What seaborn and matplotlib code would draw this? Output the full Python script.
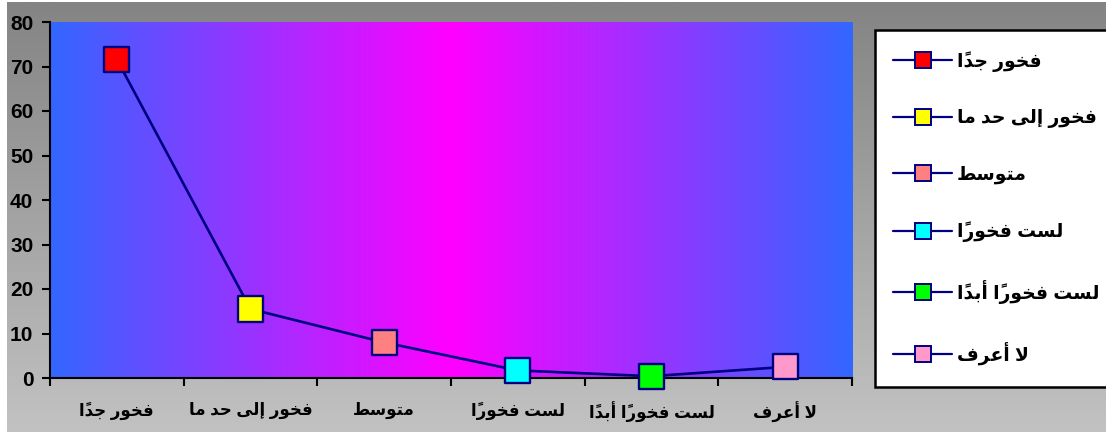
import numpy as np
import pandas as pd
import seaborn as sns
import matplotlib as mpl
import matplotlib.pyplot as plt
from matplotlib.lines import Line2D
from matplotlib.patches import Rectangle
from matplotlib.colors import LinearSegmentedColormap

# data
categories = ['فخور جداً', 'فخور إلى حد ما', 'متوسط', 'لست فخوراً', 'لست فخوراً أبداً', 'لا أعرف']
values = [71.6, 15.5, 8.0, 1.7, 0.4, 2.5]
marker_colors = ['#FF0000', '#FFFF00', '#FF8080', '#00FFFF', '#00FF00', '#FF99CC']
y_ticks = [0, 10, 20, 30, 40, 50, 60, 70, 80]

navy = '#000080'
num_size = 15
xlab_size = 12
leg_size = 13.5

sns.set_theme(style='white')
mpl.rcParams['font.family'] = ['Liberation Sans', 'DejaVu Sans']
mpl.rcParams['font.weight'] = 'bold'
mpl.rcParams['text.color'] = 'black'

# matplotlib has no arabic shaping, so pick presentation forms by hand
FORMS = {  # isolated, final, initial, medial
    'ا': ('\uFE8D', '\uFE8E', None, None),
    'أ': ('\uFE83', '\uFE84', None, None),
    'إ': ('\uFE87', '\uFE88', None, None),
    'ب': ('\uFE8F', '\uFE90', '\uFE91', '\uFE92'),
    'ت': ('\uFE95', '\uFE96', '\uFE97', '\uFE98'),
    'ج': ('\uFE9D', '\uFE9E', '\uFE9F', '\uFEA0'),
    'ح': ('\uFEA1', '\uFEA2', '\uFEA3', '\uFEA4'),
    'خ': ('\uFEA5', '\uFEA6', '\uFEA7', '\uFEA8'),
    'د': ('\uFEA9', '\uFEAA', None, None),
    'ر': ('\uFEAD', '\uFEAE', None, None),
    'س': ('\uFEB1', '\uFEB2', '\uFEB3', '\uFEB4'),
    'ط': ('\uFEC1', '\uFEC2', '\uFEC3', '\uFEC4'),
    'ع': ('\uFEC9', '\uFECA', '\uFECB', '\uFECC'),
    'ف': ('\uFED1', '\uFED2', '\uFED3', '\uFED4'),
    'ل': ('\uFEDD', '\uFEDE', '\uFEDF', '\uFEE0'),
    'م': ('\uFEE1', '\uFEE2', '\uFEE3', '\uFEE4'),
    'و': ('\uFEED', '\uFEEE', None, None),
    'ى': ('\uFEEF', '\uFEF0', None, None),
}
LAM_ALEF = {'ا': ('\uFEFB', '\uFEFC'), 'أ': ('\uFEF7', '\uFEF8'), 'إ': ('\uFEF9', '\uFEFA')}
MARKS = '\u064B\u064C\u064D\u064E\u064F\u0650\u0651\u0652'


def shape(text):
    clusters = []
    for c in text:
        if c in MARKS and clusters:
            clusters[-1][1].append(c)
        else:
            clusters.append([c, []])
    merged = []
    i = 0
    while i < len(clusters):
        b, m = clusters[i]
        if b == 'ل' and not m and i + 1 < len(clusters) and clusters[i + 1][0] in LAM_ALEF:
            merged.append(['LA' + clusters[i + 1][0], clusters[i + 1][1]])
            i += 2
        else:
            merged.append([b, m])
            i += 1

    def joins_next(b):
        return b in FORMS and FORMS[b][2] is not None

    def joinable(b):
        return b.startswith('LA') or b in FORMS

    out = []
    for k, (b, m) in enumerate(merged):
        prev = merged[k - 1][0] if k > 0 else None
        nxt = merged[k + 1][0] if k + 1 < len(merged) else None
        jp = prev is not None and joins_next(prev) and joinable(b)
        jn = nxt is not None and joins_next(b) and joinable(nxt)
        if b.startswith('LA'):
            g = LAM_ALEF[b[2]][1 if jp else 0]
        elif b in FORMS:
            iso, fin, ini, med = FORMS[b]
            g = med if (jp and jn) else fin if jp else ini if jn else iso
        else:
            g = b
        out.append(g + ''.join(m))
    return ''.join(reversed(out))


df = pd.DataFrame({'cat': categories, 'value': values})
df['pos'] = np.arange(len(df))
palette = dict(zip(categories, marker_colors))

W, H = 1106, 432
fig = plt.figure(figsize=(W / 100, H / 100), dpi=100, facecolor='white')

# grey gradient backdrop
bg = fig.add_axes([7 / W, 0, 1 - 7 / W, 1 - 2 / H], zorder=-10)
bg.imshow(np.linspace(0, 1, 256).reshape(-1, 1), aspect='auto',
          cmap=LinearSegmentedColormap.from_list('g', ['#848484', '#C2C2C2']),
          extent=[0, 1, 0, 1], origin='upper')
bg.axis('off')

ax = fig.add_axes([50 / W, 1 - 378 / H, (852 - 50) / W, (378 - 22) / H])
t = np.linspace(0, 1, 400)
ax.imshow((1 - np.abs(2 * t - 1)).reshape(1, -1), aspect='auto',
          cmap=LinearSegmentedColormap.from_list('p', ['#3366FF', '#FF00FF']),
          extent=[-0.5, len(df) - 0.5, 0, 80], zorder=0)

sns.lineplot(data=df, x='pos', y='value', color=navy, linewidth=1.9, ax=ax, zorder=3)
sns.scatterplot(data=df, x='pos', y='value', hue='cat', palette=palette, marker='s',
                s=330, edgecolor=navy, linewidth=1.7, legend=False, ax=ax, zorder=6,
                clip_on=False)

ax.set_xlim(-0.5, len(df) - 0.5)
ax.set_ylim(0, 80)
ax.set_yticks(y_ticks)
ax.set_xticks(df['pos'])
ax.set_xticks(np.arange(len(df) + 1) - 0.5, minor=True)
ax.set_xticklabels([shape(c) for c in categories])
ax.set_xlabel('')
ax.set_ylabel('')
ax.tick_params(axis='y', direction='out', length=6, width=1.5, color='black',
               labelcolor='black', labelsize=num_size, pad=6, left=True)
ax.tick_params(axis='x', which='major', length=0, labelsize=xlab_size, labelcolor='black', pad=17)
ax.tick_params(axis='x', which='minor', direction='out', length=6, width=1.5,
               color='black', bottom=True)
for lab in ax.get_xticklabels() + ax.get_yticklabels():
    lab.set_fontweight('bold')
for s in ['top', 'right']:
    ax.spines[s].set_visible(False)
for s in ['left', 'bottom']:
    ax.spines[s].set_color('black')
    ax.spines[s].set_linewidth(1.5)
    ax.spines[s].set_zorder(5)

# legend box
fig.patches.append(Rectangle((875 / W, 1 - 387 / H), 240 / W, 357 / H,
                             transform=fig.transFigure, facecolor='white',
                             edgecolor='black', linewidth=1.8, zorder=1))
handles = [Line2D([0], [0], color=navy, linewidth=1.6, marker='s', markersize=11,
                  markerfacecolor=c, markeredgecolor=navy, markeredgewidth=1.4)
           for c in marker_colors]
leg = fig.legend(handles, [shape(c) for c in categories], loc='upper left',
                 bbox_to_anchor=(893 / W, 1 - 51 / H), frameon=False,
                 handlelength=3.15, handletextpad=0.27, borderpad=0, borderaxespad=0,
                 labelspacing=2.0, prop={'weight': 'bold', 'size': leg_size})
for txt in leg.get_texts():
    txt.set_color('black')

fig.savefig('out.png', dpi=100, facecolor=fig.get_facecolor())
